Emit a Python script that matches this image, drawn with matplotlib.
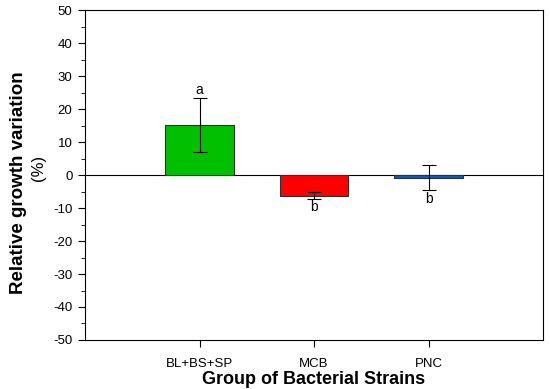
import matplotlib.pyplot as plt
from matplotlib.ticker import MultipleLocator

plt.rcParams['font.family'] = ['Liberation Sans', 'DejaVu Sans']
plt.rcParams['axes.unicode_minus'] = False

grupuri = ['BL+BS+SP', 'MCB', 'PNC']
medii = [15.2, -6.2, -0.8]
erori = [8.1, 1.0, 3.8]
litere = ['a', 'b', 'b']
culori = ['#00C000', '#FF0000', '#0060D0']

fig = plt.figure(figsize=(5.5, 3.89), dpi=100)
ax = fig.add_axes([0.1545, 0.126, 0.833, 0.848])

pozitii = [1, 2, 3]
ax.bar(pozitii, medii, width=0.6, color=culori, edgecolor='#303030', linewidth=0.8, zorder=2)
ax.errorbar(pozitii, medii, yerr=erori, fmt='none', ecolor='black', elinewidth=0.8,
            capsize=5, capthick=0.8, zorder=3)
ax.axhline(0, color='black', linewidth=0.8, zorder=1)

for x, m, e, lit in zip(pozitii, medii, erori, litere):
    if m > 0:
        ax.text(x, m + e + 0.5, lit, ha='center', va='bottom', fontsize=10)
    else:
        ax.text(x, m - e - 0.5, lit, ha='center', va='top', fontsize=10)

ax.set_xlim(0, 4)
ax.set_ylim(-50, 50)
ax.set_xticks(pozitii)
ax.set_xticklabels(grupuri, fontsize=9.5)
ax.yaxis.set_major_locator(MultipleLocator(10))
ax.yaxis.set_minor_locator(MultipleLocator(5))
ax.tick_params(axis='y', labelsize=9.5, direction='out', length=5, pad=4)
ax.tick_params(axis='y', which='minor', length=3)
ax.tick_params(axis='x', direction='out', length=5, pad=8)
for s in ax.spines.values():
    s.set_linewidth(0.8)

ax.set_xlabel('Group of Bacterial Strains', fontsize=13, fontweight='bold', labelpad=1)
fig.text(0.033, 0.53, 'Relative growth variation', rotation=90, fontsize=13.5,
         fontweight='bold', ha='center', va='center')
fig.text(0.07, 0.568, '(%)', rotation=90, fontsize=12, ha='center', va='center')

plt.savefig('out.png', dpi=100)
